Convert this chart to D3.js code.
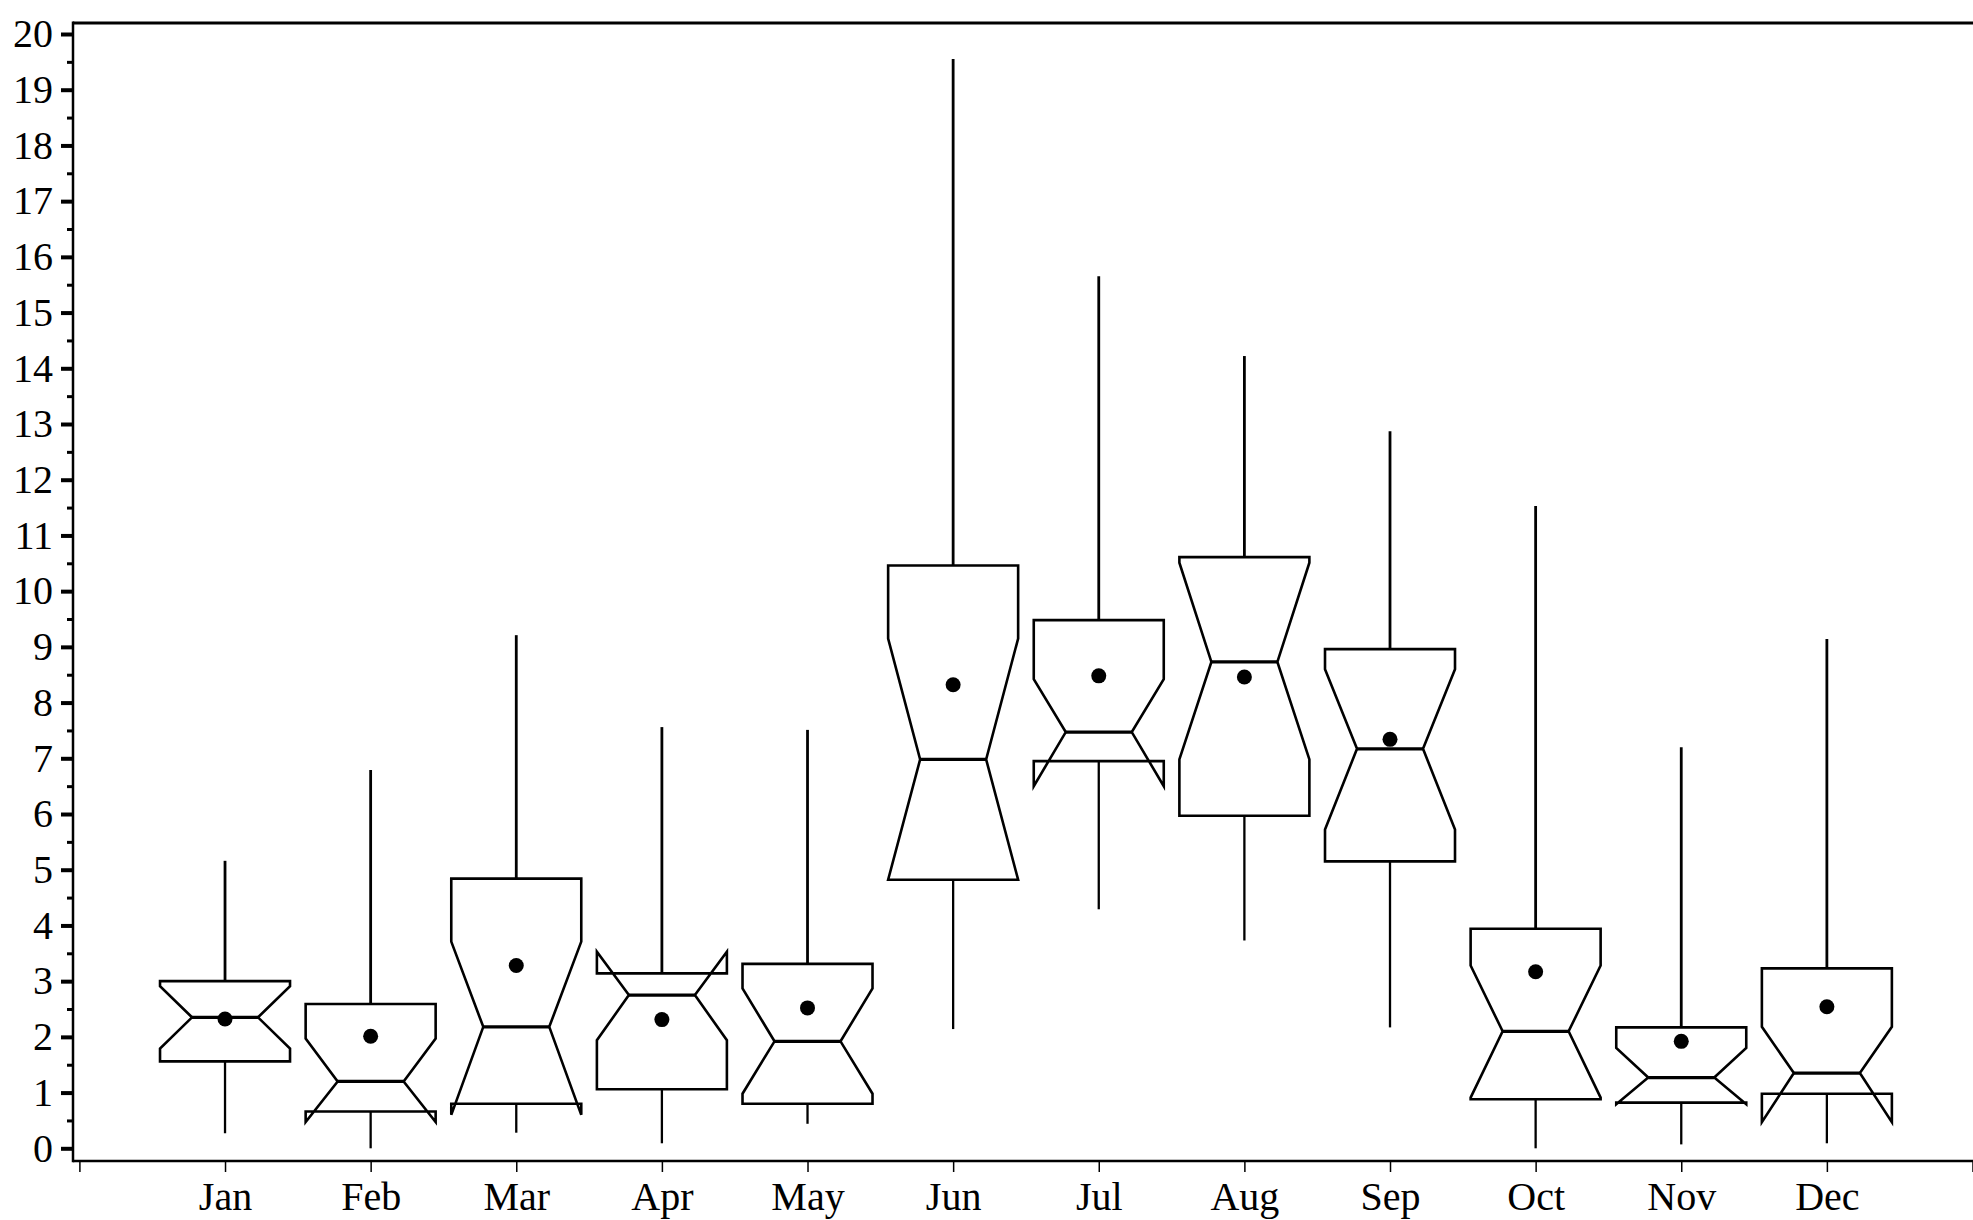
<!DOCTYPE html>
<html>
<head>
<meta charset="utf-8">
<script src="https://cdn.jsdelivr.net/npm/d3@7"></script>
<style>
    body { margin: 0; background: #fff; }
    .axis text { font-family: "Liberation Serif", "Times New Roman", serif; font-size: 40px; fill: #000; }
</style>
</head>
<body>
<div class="chart-area"></div>
<script>

// monthly values
let months = ["Jan", "Feb", "Mar", "Apr", "May", "Jun", "Jul", "Aug", "Sep", "Oct", "Nov", "Dec"];
let whiskerLow  = [0.27, 0.00, 0.28, 0.09, 0.44, 2.14, 4.29, 3.73, 2.17, 0.00, 0.07, 0.09];
let q1          = [1.56, 0.66, 0.80, 1.06, 0.80, 4.82, 6.95, 5.97, 5.15, 0.88, 0.82, 0.98];
let notchLow    = [1.79, 0.47, 0.60, 1.94, 0.98, 4.82, 6.50, 6.98, 5.72, 0.91, 0.79, 0.47];
let medians     = [2.35, 1.20, 2.18, 2.75, 1.92, 6.98, 7.47, 8.73, 7.17, 2.10, 1.27, 1.35];
let notchHigh   = [2.91, 1.97, 3.71, 3.53, 2.87, 9.15, 8.42, 10.51, 8.60, 3.28, 1.80, 2.18];
let q3          = [3.00, 2.59, 4.84, 3.14, 3.31, 10.46, 9.48, 10.61, 8.96, 3.94, 2.17, 3.23];
let whiskerHigh = [5.16, 6.79, 9.21, 7.56, 7.51, 19.55, 15.65, 14.22, 12.87, 11.53, 7.20, 9.14];
let means       = [2.32, 2.01, 3.28, 2.31, 2.52, 8.32, 8.48, 8.46, 7.34, 3.17, 1.92, 2.54];

let yTicks = d3.range(0, 21);
let yMinorTicks = d3.range(0.5, 20, 1);

class BoxVis {

    constructor(_parentElement) {
        this.parentElement = _parentElement;
        this.displayData = [];
        this.initVis();
    }

    initVis() {
        let vis = this;

        vis.width = 1973;
        vis.height = 1220;
        vis.left = 73;
        vis.top = 23;
        vis.bottom = 1161;

        vis.svg = d3.select("." + vis.parentElement).append("svg")
            .attr("width", vis.width)
            .attr("height", vis.height);

        // scales: months sit at 1..12, axis runs 0..13
        vis.x = d3.scaleLinear().domain([0, 13]).range([79.4, 1972.5]);
        vis.y = d3.scaleLinear().domain([0, 20]).range([1148.3, 34]);

        vis.boxHalf = 65;
        vis.notchHalf = 33;

        vis.wrangleData();
    }

    wrangleData() {
        let vis = this;
        months.forEach(function (m, i) {
            vis.displayData.push({
                month: m,
                pos: i + 1,
                wLo: whiskerLow[i],
                q1: q1[i],
                nLo: notchLow[i],
                med: medians[i],
                nHi: notchHigh[i],
                q3: q3[i],
                wHi: whiskerHigh[i],
                mean: means[i]
            });
        });
        vis.updateVis();
    }

    updateVis() {
        let vis = this;

        // y axis, major ticks
        let yAxis = vis.svg.append("g")
            .attr("class", "axis")
            .attr("transform", "translate(" + vis.left + ",0)")
            .call(d3.axisLeft(vis.y).tickValues(yTicks).tickSize(12).tickPadding(8).tickFormat(d3.format("d")));
        yAxis.select(".domain").remove();
        yAxis.selectAll(".tick line").attr("stroke", "#000").attr("stroke-width", 4);

        // y axis, minor ticks
        let yMinor = vis.svg.append("g")
            .attr("transform", "translate(" + vis.left + ",0)")
            .call(d3.axisLeft(vis.y).tickValues(yMinorTicks).tickSize(6).tickFormat(""));
        yMinor.select(".domain").remove();
        yMinor.selectAll(".tick line").attr("stroke", "#000").attr("stroke-width", 3);

        // x axis
        let xAxis = vis.svg.append("g")
            .attr("class", "axis")
            .attr("transform", "translate(0," + vis.bottom + ")")
            .call(d3.axisBottom(vis.x).tickValues(d3.range(0, 14)).tickSize(11).tickPadding(10)
                .tickFormat(i => months[i - 1] || ""));
        xAxis.select(".domain").remove();
        xAxis.selectAll(".tick line").attr("stroke", "#000").attr("stroke-width", 1.5);

        // frame lines
        vis.svg.append("line")
            .attr("x1", vis.left).attr("x2", vis.width)
            .attr("y1", vis.top).attr("y2", vis.top)
            .attr("stroke", "#000").attr("stroke-width", 3);
        vis.svg.append("line")
            .attr("x1", vis.left).attr("x2", vis.left)
            .attr("y1", vis.top - 1.5).attr("y2", vis.bottom + 1.25)
            .attr("stroke", "#000").attr("stroke-width", 2.5);
        vis.svg.append("line")
            .attr("x1", vis.left).attr("x2", vis.x(13) + 1)
            .attr("y1", vis.bottom).attr("y2", vis.bottom)
            .attr("stroke", "#000").attr("stroke-width", 2.5);

        let boxes = vis.svg.append("g").attr("class", "boxes")
            .selectAll("g")
            .data(vis.displayData)
            .enter().append("g");

        // whiskers
        boxes.append("line")
            .attr("x1", d => vis.x(d.pos)).attr("x2", d => vis.x(d.pos))
            .attr("y1", d => vis.y(d.q3)).attr("y2", d => vis.y(d.wHi))
            .attr("stroke", "#000").attr("stroke-width", 2.8);
        boxes.append("line")
            .attr("x1", d => vis.x(d.pos)).attr("x2", d => vis.x(d.pos))
            .attr("y1", d => vis.y(d.q1)).attr("y2", d => vis.y(d.wLo))
            .attr("stroke", "#000").attr("stroke-width", 2.3);

        // notched box outline
        boxes.append("path")
            .attr("d", function (d) {
                let c = vis.x(d.pos);
                let L = c - vis.boxHalf, R = c + vis.boxHalf;
                let Lm = c - vis.notchHalf, Rm = c + vis.notchHalf;
                let pts = [
                    [L, vis.y(d.q3)], [L, vis.y(d.nHi)], [Lm, vis.y(d.med)], [L, vis.y(d.nLo)], [L, vis.y(d.q1)],
                    [R, vis.y(d.q1)], [R, vis.y(d.nLo)], [Rm, vis.y(d.med)], [R, vis.y(d.nHi)], [R, vis.y(d.q3)]
                ];
                return d3.line()(pts) + "Z";
            })
            .attr("fill", "none")
            .attr("stroke", "#000")
            .attr("stroke-width", 2.6)
            .attr("stroke-linejoin", "miter");

        // median
        boxes.append("line")
            .attr("x1", d => vis.x(d.pos) - vis.notchHalf).attr("x2", d => vis.x(d.pos) + vis.notchHalf)
            .attr("y1", d => vis.y(d.med)).attr("y2", d => vis.y(d.med))
            .attr("stroke", "#000").attr("stroke-width", 3.2);

        // mean dot
        boxes.append("circle")
            .attr("cx", d => vis.x(d.pos))
            .attr("cy", d => vis.y(d.mean))
            .attr("r", 7.5)
            .attr("fill", "#000");
    }
}

let boxVis = new BoxVis("chart-area");

</script>
</body>
</html>
